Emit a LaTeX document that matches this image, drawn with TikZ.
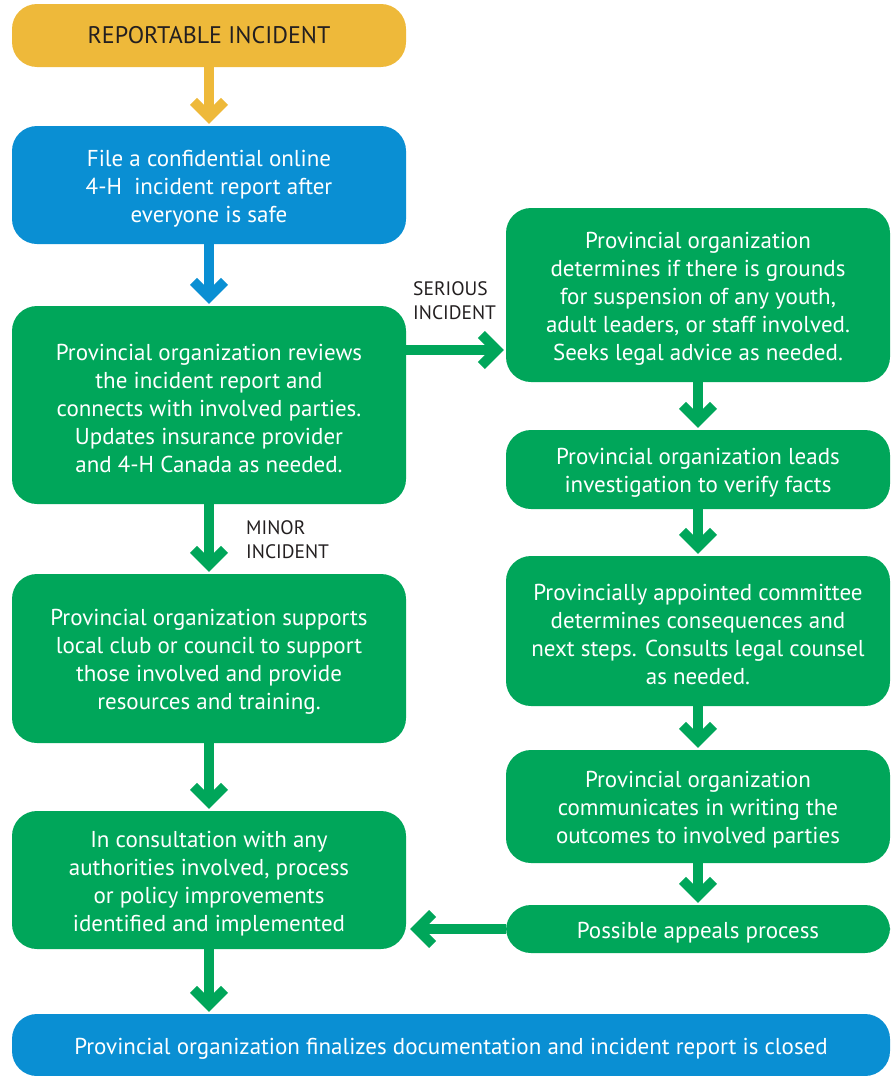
\documentclass[tikz,border=0pt]{standalone}
\usepackage{fontspec}
\setmainfont{PT Sans}
\usetikzlibrary{calc}
\definecolor{yel}{HTML}{EEB93A}
\definecolor{blu}{HTML}{0A8FD3}
\definecolor{grn}{HTML}{00A65A}
\definecolor{ink}{HTML}{231F20}
\newcommand{\st}{\rule{0pt}{23pt}}
\begin{document}
\begin{tikzpicture}[x=1pt,y=-1pt,
  box/.style={rectangle, rounded corners=25pt, inner sep=0pt, align=center,
    font=\fontsize{23}{28}\selectfont, text=white},
  ybox/.style={box, fill=yel, text=ink, font=\fontsize{24}{28}\selectfont},
  bbox/.style={box, fill=blu},
  gbox/.style={box, fill=grn},
  lbl/.style={anchor=west, align=left, inner sep=0pt, text=ink, font=\fontsize{19.5}{24}\selectfont},
  shaft/.style={line width=10pt, draw=#1},
  chevdown/.pic={\fill (0,0) -- (-19,-19) -- (-12,-26) -- (0,-14) -- (12,-26) -- (19,-19) -- cycle;},
  chevright/.pic={\fill (0,0) -- (-19,-19) -- (-26,-12) -- (-14,0) -- (-26,12) -- (-19,19) -- cycle;},
  chevleft/.pic={\fill (0,0) -- (19,-19) -- (26,-12) -- (14,0) -- (26,12) -- (19,19) -- cycle;},
]
\useasboundingbox (0,0) rectangle (892,1076);

\node[ybox, minimum width=394pt, minimum height=63pt] (top) at (209,35.5) {REPORTABLE INCIDENT};
\node[bbox, minimum width=394pt, minimum height=118pt] (file) at (209,185)
  {\st File a confidential online\\4-H\ \ incident report after\\everyone is safe};
\node[gbox, minimum width=394pt, minimum height=198pt] (revA) at (209,405)
  {\st Provincial organization reviews\\the incident report and\\connects with involved parties.\\Updates insurance provider\\and 4-H Canada as needed.};
\node[gbox, minimum width=394pt, minimum height=169pt] (supB) at (209,658.5)
  {\st Provincial organization supports\\local club or council to support\\those involved and provide\\resources and training.};
\node[gbox, minimum width=394pt, minimum height=138pt] (consC) at (209,880)
  {\st In consultation with any\\authorities involved, process\\or policy improvements\\identified and implemented};
\node[bbox, minimum width=878pt, minimum height=62pt] (fin) at (451,1045)
  {\st Provincial organization finalizes documentation and incident report is closed};

\node[gbox, minimum width=384pt, minimum height=174pt] (R1) at (698,295)
  {\st Provincial organization\\determines if there is grounds\\for suspension of any youth,\\adult leaders, or staff involved.\\Seeks legal advice as needed.};
\node[gbox, minimum width=384pt, minimum height=79pt] (R2) at (698,469.5)
  {\st Provincial organization leads\\investigation to verify facts};
\node[gbox, minimum width=384pt, minimum height=150pt] (R3) at (698,631)
  {\st Provincially appointed committee\\determines consequences and\\next steps. Consults legal counsel\\as needed.};
\node[gbox, minimum width=384pt, minimum height=113pt] (R4) at (698,806.5)
  {\st Provincial organization\\communicates in writing the\\outcomes to involved parties};
\node[gbox, minimum width=384pt, minimum height=48pt] (R5) at (698,929)
  {\st Possible appeals process};

\node[lbl] (serious) at (413,301) {SERIOUS\\INCIDENT};
\node[lbl] (minor) at (246,540) {MINOR\\INCIDENT};

% vertical left connectors
\draw[shaft=yel] (top.south) -- ($(file.north)+(0,-16)$);
\pic[color=yel] at ($(file.north)+(0,-2)$) {chevdown};
\draw[shaft=blu] (file.south) -- ($(revA.north)+(0,-16)$);
\pic[color=blu] at ($(revA.north)+(0,-2)$) {chevdown};
\draw[shaft=grn] (revA.south) -- ($(supB.north)+(0,-16)$);
\pic[color=grn] at ($(supB.north)+(0,-2)$) {chevdown};
\draw[shaft=grn] (supB.south) -- ($(consC.north)+(0,-16)$);
\pic[color=grn] at ($(consC.north)+(0,-2)$) {chevdown};
\draw[shaft=grn] (consC.south) -- ($(consC.south |- fin.north)+(0,-16)$);
\pic[color=grn] at ($(consC.south |- fin.north)+(0,-2)$) {chevdown};

% vertical right connectors
\draw[shaft=grn] (R1.south) -- ($(R2.north)+(0,-16)$);
\pic[color=grn] at ($(R2.north)+(0,-2)$) {chevdown};
\draw[shaft=grn] (R2.south) -- ($(R3.north)+(0,-16)$);
\pic[color=grn] at ($(R3.north)+(0,-2)$) {chevdown};
\draw[shaft=grn] (R3.south) -- ($(R4.north)+(0,-16)$);
\pic[color=grn] at ($(R4.north)+(0,-2)$) {chevdown};
\draw[shaft=grn] (R4.south) -- ($(R5.north)+(0,-16)$);
\pic[color=grn] at ($(R5.north)+(0,-2)$) {chevdown};

% horizontal connectors
\draw[shaft=grn] (revA.east |- 0,350) -- ($(R1.west |- 0,350)+(-16,0)$);
\pic[color=grn] at ($(R1.west |- 0,350)+(-2,0)$) {chevright};
\draw[shaft=grn] (R5.west) -- ($(consC.east |- R5.west)+(18,0)$);
\pic[color=grn] at ($(consC.east |- R5.west)+(4,0)$) {chevleft};
\end{tikzpicture}
\end{document}
